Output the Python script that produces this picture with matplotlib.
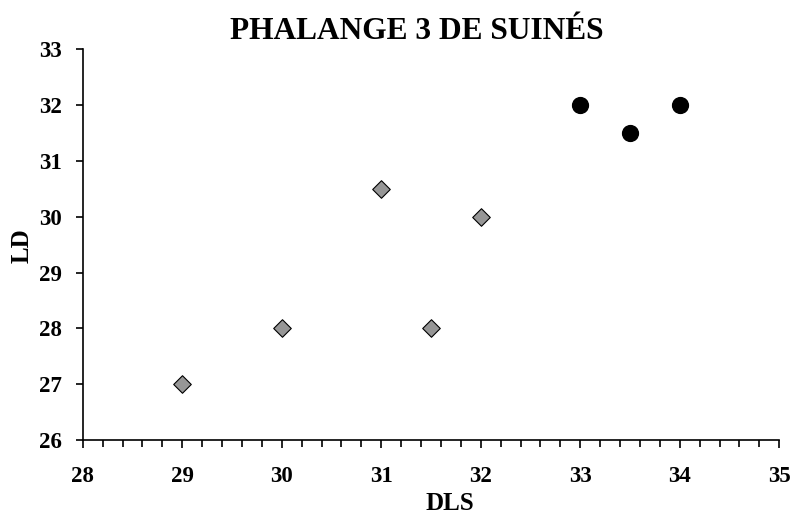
import matplotlib.pyplot as plt
from matplotlib.ticker import MultipleLocator

# Phalange 3 - deux groupes
dls_gris = [29, 30, 31, 31.5, 32]
ld_gris = [27, 28, 30.5, 28, 30]
dls_noir = [33, 33.5, 34]
ld_noir = [32, 31.5, 32]

plt.rcParams['font.family'] = ['Liberation Serif', 'DejaVu Serif']
plt.rcParams['font.weight'] = 'bold'

fig = plt.figure(figsize=(7.96, 5.16), dpi=100)
ax = fig.add_axes([0.104, 0.147, 0.875, 0.758])

ax.scatter(dls_gris, ld_gris, marker='D', s=80, color='#969696',
           edgecolor='black', linewidth=0.8, zorder=3, clip_on=False)
ax.scatter(dls_noir, ld_noir, marker='o', s=130, color='black', zorder=3, clip_on=False)

ax.set_xlim(28, 35)
ax.set_ylim(26, 33)
ax.xaxis.set_major_locator(MultipleLocator(1))
ax.xaxis.set_minor_locator(MultipleLocator(0.2))
ax.yaxis.set_major_locator(MultipleLocator(1))

for s in ['top', 'right']:
    ax.spines[s].set_visible(False)
for s in ['left', 'bottom']:
    ax.spines[s].set_linewidth(1.2)

ax.tick_params(axis='x', which='major', direction='out', length=6, width=1.2,
               labelsize=16.5, pad=12.5)
ax.tick_params(axis='x', which='minor', direction='out', length=5, width=1.2)
ax.tick_params(axis='y', which='major', direction='out', length=5, width=1.2,
               labelsize=16.5, pad=10)
for lab in ax.get_xticklabels() + ax.get_yticklabels():
    lab.set_fontweight('bold')

# titres places comme dans la figure d'origine
fig.text(450 / 796, 1 - 510 / 516, 'DLS', fontsize=18, fontweight='bold',
         ha='center', va='baseline')
fig.text(22 / 796, 1 - 246 / 516, 'LD', fontsize=18, fontweight='bold',
         ha='center', va='center', rotation=90)
fig.text(417 / 796, 1 - 39 / 516, 'PHALANGE 3 DE SUINÉS', fontsize=22.6,
         fontweight='bold', ha='center', va='baseline')

fig.savefig('out.png', dpi=100)
